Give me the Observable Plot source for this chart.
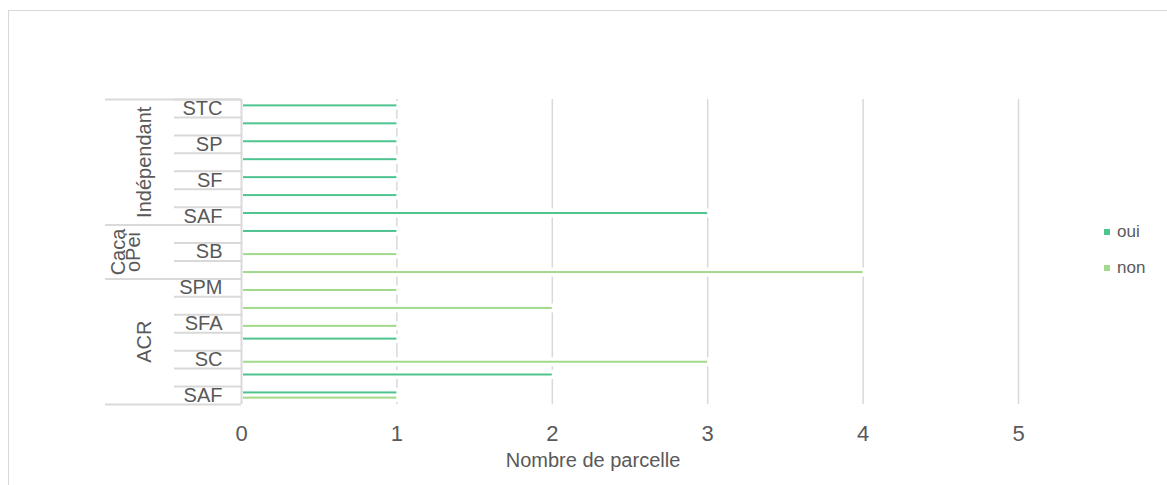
<!DOCTYPE html>
<html><head><meta charset="utf-8">
<script src="https://cdn.jsdelivr.net/npm/d3@7"></script>
<script src="https://cdn.jsdelivr.net/npm/@observablehq/plot@0.6"></script>
<style>
body{margin:0;overflow:hidden;background:#fff;font-family:"Liberation Sans",Arial,sans-serif;}
#wrap{position:relative;width:1167px;height:485px;overflow:hidden;}
#border{position:absolute;left:8px;top:10px;width:1400px;height:700px;border:1px solid #d9d9d9;}
#chart{position:absolute;left:0;top:0;}
.leg{position:absolute;left:1104px;font-size:17px;color:#595959;display:flex;align-items:center;height:20px;}
.leg span.sw{display:inline-block;width:6px;height:6px;margin-right:7px;}
</style></head>
<body>
<div id="wrap"><div id="border"></div><div id="chart"></div><div id="legend"></div></div>
<script>
const groupNames = ["Indépendant", "CacaoPei", "ACR"];
const groupSizes = [7, 3, 7];
const rowLabels = ["STC", "", "SP", "", "SF", "", "SAF", "", "SB", "", "SPM", "", "SFA", "", "SC", "", "SAF"];
const oui = [1, 1, 1, 1, 1, 1, 3, 1, 0, 0, 0, 0, 0, 1, 0, 2, 1];
const non = [0, 0, 0, 0, 0, 0, 0, 0, 1, 4, 1, 2, 1, 0, 3, 0, 1];
const xTicks = [0, 1, 2, 3, 4, 5];
const seriesNames = ["oui", "non"];
const seriesColors = ["#4fc48f", "#a2d98a"];
const xTitle = "Nombre de parcelle";

const W = 1167, H = 485, mT = 99, mB = 81, mL = 241, mR = 149;
const keys = rowLabels.map((_, i) => i);
const bw = (H - mT - mB) / keys.length;
const rows = keys.map(i => ({key: i, label: rowLabels[i], oui: oui[i], non: non[i]}));
let acc = 0;
const groups = groupNames.map((name, g) => {
  const start = acc; acc += groupSizes[g];
  return {name, start, mid: start + (groupSizes[g] - 1) / 2, wrap: name.length > 6 && groupSizes[g] < 5};
});
const grey = "#d9d9d9", txt = "#595959";
const ouiRows = rows.filter(d => d.oui > 0), nonRows = rows.filter(d => d.non > 0);
const half = 1, off = 2.6, halo = 4.5;

const chart = Plot.plot({
  width: W, height: H, marginTop: mT, marginBottom: mB, marginLeft: mL, marginRight: mR,
  style: {fontFamily: '"Liberation Sans", Arial, sans-serif', background: "transparent"},
  x: {domain: [0, 5]},
  y: {type: "band", domain: keys, padding: 0, round: false},
  marks: [
    Plot.ruleX(xTicks.slice(1), {stroke: grey, strokeWidth: 1.5}),
    Plot.barX(ouiRows, {x: "oui", y: "key", fill: "white", insetLeft: 2, insetRight: -3, insetTop: bw/2 - off - halo, insetBottom: bw/2 + off - halo}),
    Plot.barX(nonRows, {x: "non", y: "key", fill: "white", insetLeft: 2, insetRight: -3, insetTop: bw/2 + off - halo, insetBottom: bw/2 - off - halo}),
    Plot.ruleX([0], {stroke: grey, strokeWidth: 2}),
    Plot.barX(ouiRows, {x: "oui", y: "key", fill: seriesColors[0], insetLeft: 2, insetTop: bw/2 - off - half, insetBottom: bw/2 + off - half}),
    Plot.barX(nonRows, {x: "non", y: "key", fill: seriesColors[1], insetLeft: 2, insetTop: bw/2 + off - half, insetBottom: bw/2 - off - half}),
    Plot.axisY(keys, {anchor: "left", tickSize: 67, tickFormat: () => "", dy: -bw/2, stroke: grey, strokeWidth: 2, label: null}),
    Plot.axisY(groups.map(g => g.start), {anchor: "left", tickSize: 136, tickFormat: () => "", dy: -bw/2, stroke: grey, strokeWidth: 2, label: null}),
    Plot.axisY([keys[keys.length - 1]], {anchor: "left", tickSize: 136, tickFormat: () => "", dy: bw/2, stroke: grey, strokeWidth: 2, label: null}),
    Plot.axisY(keys, {anchor: "left", tickSize: 0, tickPadding: 19, tickFormat: i => rowLabels[i], fontSize: 20, color: txt, label: null}),
    Plot.text(groups.filter(g => !g.wrap), {x: () => 0, y: g => g.mid, text: "name", rotate: -90, dx: -97, fontSize: 20, fill: txt}),
    Plot.text(groups.filter(g => g.wrap), {x: () => 0, y: g => g.mid, text: g => g.name.slice(0, 4) + "\n" + g.name.slice(4), rotate: -90, dx: -114, fontSize: 20, lineHeight: 0.75, fill: txt}),
    Plot.axisX(xTicks, {anchor: "bottom", tickSize: 0, tickPadding: 21, fontSize: 22, color: txt, label: null, tickFormat: d => String(d)}),
    Plot.text([xTitle], {text: d => d, frameAnchor: "bottom", dy: 62.5, dx: -37, fontSize: 20, fill: txt})
  ]
});
document.getElementById("chart").appendChild(chart);

const leg = document.getElementById("legend");
const legTops = [232, 268];
seriesNames.forEach((s, i) => {
  const d = document.createElement("div");
  d.className = "leg";
  d.style.top = (legTops[i] - 10) + "px";
  d.innerHTML = `<span class="sw" style="background:${seriesColors[i]}"></span>${s}`;
  leg.appendChild(d);
});
</script>
</body></html>
